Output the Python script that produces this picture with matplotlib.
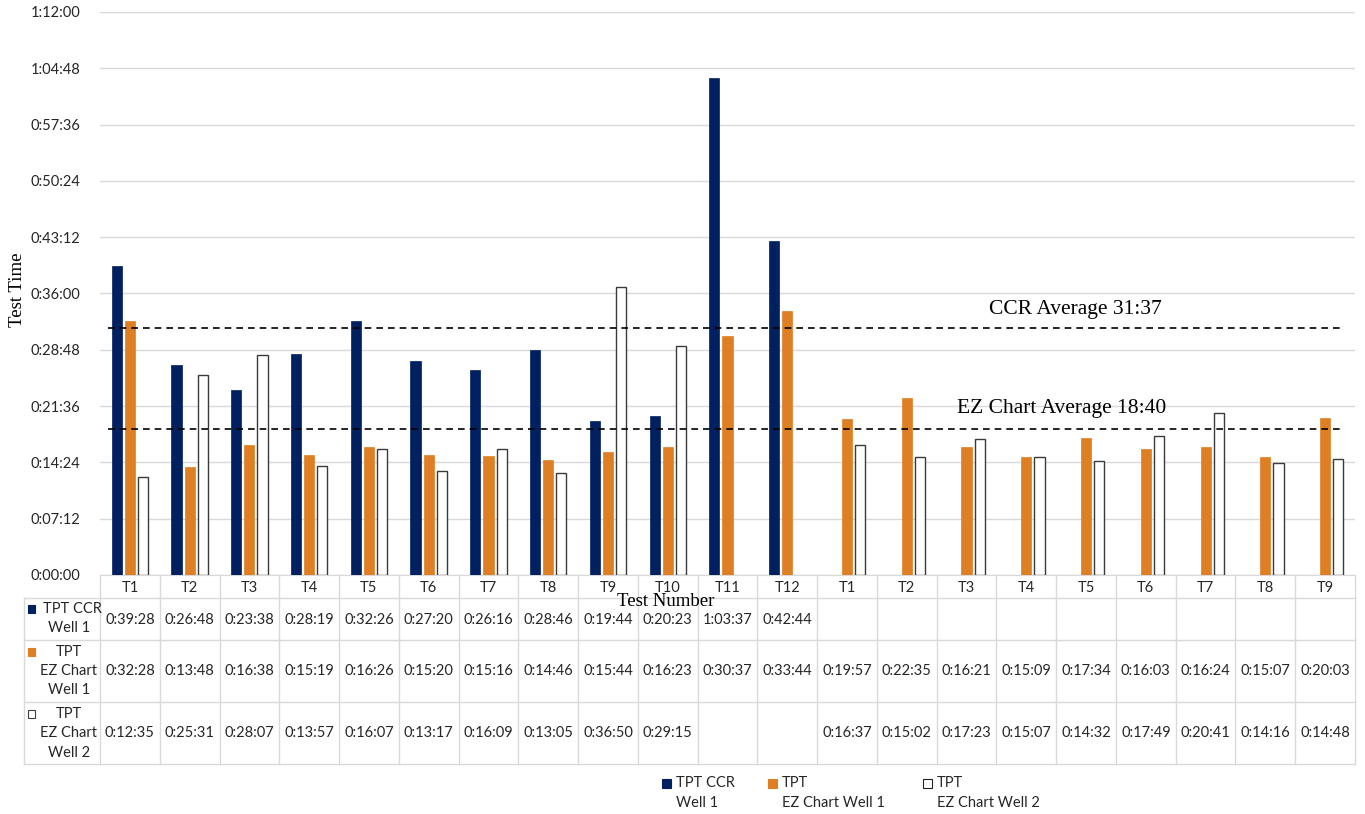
import numpy as np
import matplotlib.pyplot as plt
from matplotlib.patches import Rectangle
from matplotlib.lines import Line2D
from matplotlib.ticker import FuncFormatter, MultipleLocator
import matplotlib.transforms as mtransforms

W, H = 1365, 814

# data
categories = [f"T{i}" for i in range(1, 13)] + [f"T{i}" for i in range(1, 10)]
ccr_well1 = ["0:39:28", "0:26:48", "0:23:38", "0:28:19", "0:32:26", "0:27:20",
             "0:26:16", "0:28:46", "0:19:44", "0:20:23", "1:03:37", "0:42:44"] + [""] * 9
ez_well1 = ["0:32:28", "0:13:48", "0:16:38", "0:15:19", "0:16:26", "0:15:20",
            "0:15:16", "0:14:46", "0:15:44", "0:16:23", "0:30:37", "0:33:44",
            "0:19:57", "0:22:35", "0:16:21", "0:15:09", "0:17:34", "0:16:03",
            "0:16:24", "0:15:07", "0:20:03"]
ez_well2 = ["0:12:35", "0:25:31", "0:28:07", "0:13:57", "0:16:07", "0:13:17",
            "0:16:09", "0:13:05", "0:36:50", "0:29:15", "", "",
            "0:16:37", "0:15:02", "0:17:23", "0:15:07", "0:14:32", "0:17:49",
            "0:20:41", "0:14:16", "0:14:48"]
ccr_avg = "0:31:37"
ez_avg = "0:18:40"

navy = "#002060"
orange = "#DF7F24"
grid_c = "#d9d9d9"


def to_sec(s):
    if not s:
        return np.nan
    h, m, sec = map(int, s.split(":"))
    return h * 3600 + m * 60 + sec


def fmt(v, pos=None):
    v = int(round(v))
    return f"{v // 3600}:{v % 3600 // 60:02d}:{v % 60:02d}"


def fy(py):
    return 1 - py / H


def fx(px):
    return px / W


plt.rcParams['font.family'] = ['Lato', 'DejaVu Sans']
serif = 'Liberation Serif'

fig = plt.figure(figsize=(W / 100, H / 100), dpi=100)
ax = fig.add_axes([fx(100), fy(575), 1255 / W, 563 / H])

x = np.arange(len(categories))
series = [(ccr_well1, navy, navy, -0.22), (ez_well1, orange, orange, 0.0),
          (ez_well2, "white", "#3a3a3a", 0.22)]
for vals, fc, ec, off in series:
    v = np.array([to_sec(s) for s in vals])
    m = ~np.isnan(v)
    ax.bar(x[m] + off, v[m], width=0.17, color=fc, edgecolor=ec,
           linewidth=1.0 if fc == "white" else 0.5, zorder=3)

ax.set_xlim(-0.5, len(categories) - 0.5)
ax.set_ylim(0, 4320)
ax.yaxis.set_major_locator(MultipleLocator(432))
ax.yaxis.set_major_formatter(FuncFormatter(fmt))
ax.grid(axis='y', color=grid_c, linewidth=1, zorder=0)
for s in ['top', 'right', 'left']:
    ax.spines[s].set_visible(False)
ax.spines['bottom'].set_color(grid_c)
ax.tick_params(axis='y', length=0, pad=14, labelsize=10.5, labelcolor="#262626")
ax.set_xticks(x)
ax.set_xticklabels(categories)
ax.tick_params(axis='x', length=0, pad=4, labelsize=10.5, labelcolor="#262626")

# average lines
for val in [ccr_avg, ez_avg]:
    ax.hlines(to_sec(val), -0.37, 20.28, colors="black", linestyles=(0, (4, 3)),
              linewidth=1.2, zorder=4)
fig.text(fx(1075), fy(309), "CCR Average 31:37", family=serif, fontsize=15.5,
         ha='center', va='center')
fig.text(fx(1062), fy(409), "EZ Chart Average 18:40", family=serif, fontsize=15.5,
         ha='center', va='center')

# axis titles
fig.text(fx(17), fy(290), "Test Time", family=serif, fontsize=13.5, rotation=90,
         ha='center', va='center')
fig.text(fx(666), fy(602), "Test Number", family=serif, fontsize=13.5,
         ha='center', va='center')

# data table
bt = mtransforms.blended_transform_factory(ax.transData, fig.transFigure)
for k in range(len(categories) + 1):
    fig.add_artist(Line2D([k - 0.5, k - 0.5], [fy(575), fy(764)], transform=bt,
                          color=grid_c, linewidth=1))
fig.add_artist(Line2D([fx(24), fx(24)], [fy(598), fy(764)], transform=fig.transFigure,
                      color=grid_c, linewidth=1))
for py in [598, 640, 702, 764]:
    fig.add_artist(Line2D([fx(24), fx(1355)], [fy(py), fy(py)], transform=fig.transFigure,
                          color=grid_c, linewidth=1))

row_info = [
    (ccr_well1, 620, ["TPT CCR", "Well 1"], [609, 628], [72, 69], navy, navy),
    (ez_well1, 671, ["TPT", "EZ Chart", "Well 1"], [652, 671, 690], [69, 69, 69], orange, orange),
    (ez_well2, 733, ["TPT", "EZ Chart", "Well 2"], [714, 733, 753], [69, 69, 69], "white", "#404040"),
]
for vals, py, lines, lys, lxs, fc, ec in row_info:
    for i, s in enumerate(vals):
        if s:
            fig.text(i, fy(py), s, transform=bt, ha='center', va='center',
                     fontsize=10.5, color="#262626")
    for t, ly, lx in zip(lines, lys, lxs):
        fig.text(fx(lx), fy(ly), t, ha='center', va='center', fontsize=10.5,
                 color="#262626")
    fig.add_artist(Rectangle((fx(28), fy(lys[0] + 4)), 7 / W, 8 / H,
                             transform=fig.transFigure, facecolor=fc, edgecolor=ec,
                             linewidth=0.8))

# legend
leg = [(662, ["TPT CCR", "Well 1"], navy, navy),
       (768, ["TPT", "EZ Chart Well 1"], orange, orange),
       (923, ["TPT", "EZ Chart Well 2"], "white", "#202020")]
for px, lines, fc, ec in leg:
    fig.add_artist(Rectangle((fx(px), fy(788)), 9 / W, 9 / H, transform=fig.transFigure,
                             facecolor=fc, edgecolor=ec, linewidth=0.8))
    fig.text(fx(px + 14), fy(783), lines[0], ha='left', va='center', fontsize=10.5,
             color="#262626")
    fig.text(fx(px + 14), fy(803), lines[1], ha='left', va='center', fontsize=10.5,
             color="#262626")

fig.savefig("out.png", dpi=100)
